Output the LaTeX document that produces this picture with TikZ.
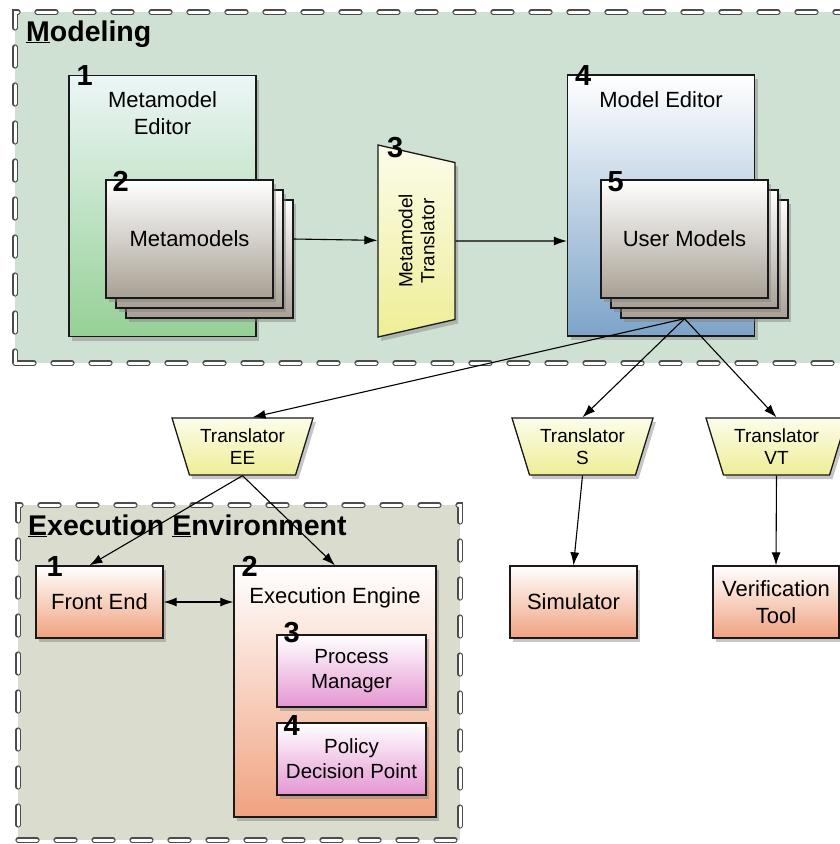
\documentclass[tikz,border=0pt]{standalone}
\usepackage{fontspec}
\setmainfont{Liberation Sans}
\usetikzlibrary{arrows.meta, positioning, shapes.geometric, shadows}

\definecolor{modelbg}{RGB}{207,225,210}
\definecolor{execbg}{RGB}{218,220,206}
\definecolor{greentop}{RGB}{236,246,246}
\definecolor{greenbot}{RGB}{150,208,150}
\definecolor{bluebot}{RGB}{124,164,200}
\definecolor{stackbot}{RGB}{168,160,148}
\definecolor{yellowtop}{RGB}{252,252,235}
\definecolor{yellowbot}{RGB}{238,238,150}
\definecolor{salmonbot}{RGB}{240,162,128}
\definecolor{pinkbot}{RGB}{228,150,210}

\begin{document}
\begin{tikzpicture}[x=1pt, y=-1pt, >={Latex[length=13pt,width=9pt]},
    region/.style={draw=black!70, line width=1.1pt, double=white, double distance=3pt,
        dash pattern=on 19pt off 19pt, line cap=round, inner sep=0pt},
    box/.style={draw=black!90, line width=1.3pt, inner sep=0pt,
        drop shadow={opacity=0.45, shadow xshift=3pt, shadow yshift=-4pt}},
    editor/.style={box, minimum width=187, minimum height=261},
    page/.style={box, top color=white, bottom color=stackbot, minimum width=167, minimum height=118,
        font=\fontsize{22}{27}\selectfont},
    trans/.style={box, trapezium, trapezium angle=64, trapezium stretches body, shape border rotate=180,
        top color=yellowtop, bottom color=yellowbot, align=center, inner xsep=1pt,
        font=\fontsize{19}{22}\selectfont},
    tool/.style={box, top color=white, bottom color=salmonbot, minimum width=127, minimum height=72,
        align=center, font=\fontsize{22}{27}\selectfont},
    part/.style={box, top color=white, bottom color=pinkbot, minimum width=149, minimum height=72,
        align=center, font=\fontsize{20.5}{25}\selectfont},
    lbl/.style={inner sep=0pt, align=center, font=\fontsize{22}{27}\selectfont},
    num/.style={inner sep=0pt, anchor=base west, font=\bfseries\fontsize{29}{29}\selectfont},
    title/.style={inner sep=0pt, anchor=base west, font=\bfseries\fontsize{28.5}{31}\selectfont},
    link/.style={->, line width=1.1pt}]

    \useasboundingbox (0,0) rectangle (840,844);
    \clip (0,0) rectangle (840,844);

    % the two areas
    \node (modeling) [region, fill=modelbg, minimum width=833, minimum height=351] at (431.5,187.5) {};
    \node (execenv) [region, fill=execbg, minimum width=442, minimum height=335] at (239,672.5) {};
    \node (modelingtitle) [title] at (26,41) {\underline{M}odeling};
    \node (execenvtitle) [title] at (28,535) {\underline{E}xecution \underline{E}nvironment};

    % metamodel side
    \node (mmeditor) [editor, top color=greentop, bottom color=greenbot] at (162.5,206) {};
    \node (mmeditorlbl) [lbl, below=17pt of mmeditor.north] {Metamodel\\Editor};
    \node (n1) [num] at ([shift={(8,11)}]mmeditor.north west) {1};

    \node (mm3) [page] at (209.5,259) {};
    \node (mm2) [page] at ([shift={(-10,-10)}]mm3) {};
    \node (mm) [page] at ([shift={(-10,-10)}]mm2) {Metamodels};
    \node (n2) [num] at ([shift={(7,12)}]mm.north west) {2};

    \node (tr3) [trans, rotate=90, minimum width=192, minimum height=77] at (416.5,241) {Metamodel\\Translator};
    \node (n3) [num] at (387,157) {3};

    % model side
    \node (meditor) [editor, top color=white, bottom color=bluebot] at (661,205.5) {};
    \node (meditorlbl) [lbl, below=17pt of meditor.north] {Model Editor};
    \node (n4) [num] at ([shift={(8,11)}]meditor.north west) {4};

    \node (um3) [page] at (704.5,259) {};
    \node (um2) [page] at ([shift={(-10,-10)}]um3) {};
    \node (um) [page] at ([shift={(-10,-10)}]um2) {User Models};
    \node (n5) [num] at ([shift={(7,12)}]um.north west) {5};

    % translators and tools
    \node (trEE) [trans, minimum width=141, minimum height=57] at (242.5,446.5) {Translator\\EE};
    \node (trS) [trans, minimum width=141, minimum height=57] at (582.5,446.5) {Translator\\S};
    \node (trVT) [trans, minimum width=141, minimum height=57] at (776.5,446.5) {Translator\\VT};

    \node (sim) [tool] at (573.5,602) {Simulator};
    \node (vtool) [tool, minimum width=126] at (776,602) {Verification\\Tool};

    % execution environment
    \node (frontend) [tool] at (99.5,602) {Front End};
    \node (nee1) [num] at ([shift={(11,11)}]frontend.north west) {1};

    \node (engine) [tool, minimum width=202, minimum height=251] at (335,691.5) {};
    \node (enginelbl) [lbl, below=22pt of engine.north] {Execution Engine};
    \node (nee2) [num] at ([shift={(8,11)}]engine.north west) {2};

    \node (pm) [part] at (351.5,671) {Process\\Manager};
    \node (nee3) [num] at ([shift={(7,8)}]pm.north west) {3};
    \node (pdp) [part] at (351.5,759) {Policy\\Decision Point};
    \node (nee4) [num] at ([shift={(7,13)}]pdp.north west) {4};

    % connectors
    \coordinate (umfoot) at (um.south |- um3.south);
    \draw[link] (mm3.east |- mm) -- (tr3);
    \draw[link] (tr3) -- (meditor.west |- tr3);
    \draw[link] (umfoot) -- ([xshift=10pt]trEE.north);
    \draw[link] (umfoot) -- (trS.north);
    \draw[link] (umfoot) -- (trVT.north);
    \draw[link] (trS.south) -- (sim.north);
    \draw[link] (trVT.south) -- (vtool.north);
    \draw[link] (trEE.south) -- ([xshift=-10pt]frontend.north);
    \draw[link] (trEE.south) -- (engine.north);
    \draw[link, <->] (frontend.east) -- (engine.west |- frontend.east);

\end{tikzpicture}
\end{document}
